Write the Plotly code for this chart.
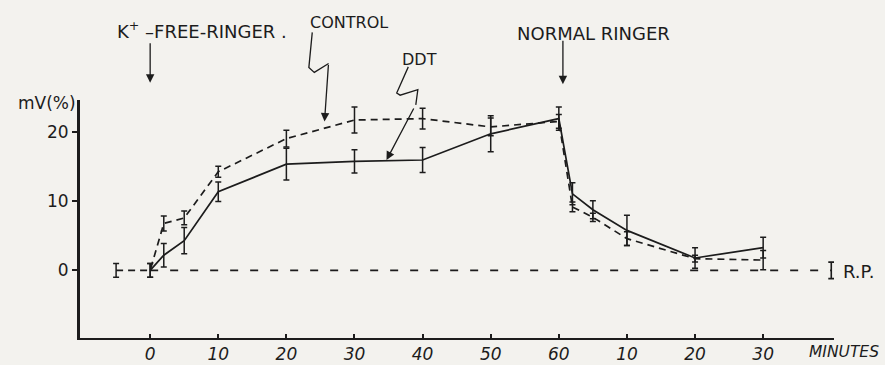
import plotly.graph_objects as go

# Time axis (minutes); after the 60 min mark the clock restarts at 0 in the tick labels
tick_vals = [0, 10, 20, 30, 40, 50, 60, 70, 80, 90]
tick_text = ["0", "10", "20", "30", "40", "50", "60", "10", "20", "30"]

# Control fibres (dashed)
control_t = [-5, 0, 2, 5, 10, 20, 30, 40, 50, 60, 62, 65, 70, 80, 90]
control_mv = [0, 0, 6.8, 7.6, 14.3, 19.1, 21.8, 22.0, 20.8, 21.6, 9.2, 7.7, 4.6, 1.7, 1.5]
control_err = [1.0, 1.0, 1.1, 1.0, 0.8, 1.2, 1.9, 1.5, 1.3, 1.0, 0.7, 0.6, 1.0, 0.5, 1.4]

# DDT-treated fibres (solid)
ddt_t = [0, 2, 5, 10, 20, 30, 40, 50, 60, 62, 65, 70, 80, 90]
ddt_mv = [0, 2.2, 4.3, 11.4, 15.4, 15.8, 16.0, 19.8, 22.0, 11.1, 8.8, 5.8, 1.8, 3.3]
ddt_err = [1.0, 1.7, 1.9, 1.4, 2.3, 1.7, 1.8, 2.6, 1.7, 1.6, 1.3, 2.2, 1.5, 1.5]

# Resting potential reference level
rp_t = [0, 100]
rp_mv = [0, 0]
rp_err = [1.2]

XR = [-10.3, 100.4]
YR = [-9.8, 24.7]
INK = "#1c1c1c"
BG = "#f3f2ee"
HAND = "DejaVu Sans"


def px(x):
    return (x - XR[0]) / (XR[1] - XR[0])


def py(y):
    return (y - YR[0]) / (YR[1] - YR[0])


fig = go.Figure()

fig.add_trace(go.Scatter(
    x=rp_t, y=rp_mv, mode="lines",
    line=dict(color=INK, width=1.8, dash="8px,12px"),
    hoverinfo="skip", showlegend=False,
))
fig.add_trace(go.Scatter(
    x=rp_t[-1:], y=rp_mv[-1:], mode="markers",
    marker=dict(size=1, color=INK, opacity=0),
    error_y=dict(type="data", array=rp_err, color=INK, thickness=1.6, width=3),
    hoverinfo="skip", showlegend=False,
))
fig.add_trace(go.Scatter(
    x=control_t, y=control_mv, mode="lines",
    line=dict(color=INK, width=1.7, dash="7px,5px"),
    error_y=dict(type="data", array=control_err, color=INK, thickness=1.5, width=3),
    name="Control", showlegend=False,
))
fig.add_trace(go.Scatter(
    x=ddt_t, y=ddt_mv, mode="lines",
    line=dict(color=INK, width=1.7),
    error_y=dict(type="data", array=ddt_err, color=INK, thickness=1.5, width=3),
    name="DDT", showlegend=False,
))


def path(points):
    return "M " + " L ".join(f"{px(a):.5f},{py(b):.5f}" for a, b in points)


shapes = [
    # lead-in strokes of the two squiggly pointers
    dict(type="path", xref="paper", yref="paper",
         path=path([(23.8, 34.5), (23.3, 29.4), (24.1, 28.7), (26.2, 30.0)]),
         line=dict(color=INK, width=1.3)),
    dict(type="path", xref="paper", yref="paper",
         path=path([(37.9, 29.5), (36.2, 25.7), (36.7, 25.4), (39.3, 26.2), (39.0, 24.0)]),
         line=dict(color=INK, width=1.3)),
]

annotations = [
    dict(x=px(-5.1), y=py(34.9), xref="paper", yref="paper", xanchor="left", yanchor="middle",
         text="K<sup>+</sup> \u2013FREE-RINGER .", showarrow=False,
         font=dict(family=HAND, size=18, color=INK)),
    dict(x=px(23.2), y=py(36.0), xref="paper", yref="paper", xanchor="left", yanchor="middle",
         text="CONTROL", showarrow=False, font=dict(family=HAND, size=16, color=INK)),
    dict(x=px(39.6), y=py(30.5), xref="paper", yref="paper", xanchor="center", yanchor="middle",
         text="DDT", showarrow=False, font=dict(family=HAND, size=16, color=INK)),
    dict(x=px(53.6), y=py(34.4), xref="paper", yref="paper", xanchor="left", yanchor="middle",
         text="NORMAL RINGER", showarrow=False, font=dict(family=HAND, size=18, color=INK)),
    dict(x=px(101.4), y=py(-0.2), xref="paper", yref="paper", xanchor="left", yanchor="middle",
         text="R.P.", showarrow=False, font=dict(family=HAND, size=18, color=INK)),
    dict(x=px(96.4), y=py(-11.8), xref="paper", yref="paper", xanchor="left", yanchor="middle",
         text="MINUTES", showarrow=False, font=dict(family=HAND, size=15.5, color=INK, style="italic")),
    dict(x=px(-15.1), y=py(24.3), xref="paper", yref="paper", xanchor="center", yanchor="middle",
         text="mV(%)", showarrow=False, font=dict(family=HAND, size=17, color=INK)),
    # straight arrows marking the solution changes
    dict(x=px(0), y=py(27.2), xref="paper", yref="paper", text="", showarrow=True,
         ax=0, ay=-41, arrowhead=2, arrowsize=1.3, arrowwidth=1.3, arrowcolor=INK),
    dict(x=px(60.6), y=py(27.0), xref="paper", yref="paper", text="", showarrow=True,
         ax=0, ay=-45, arrowhead=2, arrowsize=1.3, arrowwidth=1.3, arrowcolor=INK),
    # final legs of the squiggly pointers
    dict(x=px(25.6), y=py(21.6), xref="paper", yref="paper", text="", showarrow=True,
         ax=4, ay=-58, arrowhead=2, arrowsize=1.3, arrowwidth=1.3, arrowcolor=INK),
    dict(x=px(34.7), y=py(16.0), xref="paper", yref="paper", text="", showarrow=True,
         ax=28, ay=-53, arrowhead=2, arrowsize=1.3, arrowwidth=1.3, arrowcolor=INK),
]

fig.update_layout(
    width=885, height=365,
    margin=dict(l=80, r=51, t=100, b=27),
    paper_bgcolor=BG, plot_bgcolor=BG,
    shapes=shapes, annotations=annotations,
    xaxis=dict(range=XR, tickvals=tick_vals, ticktext=tick_text, automargin=False,
               showgrid=False, zeroline=False, showline=True, linecolor=INK, linewidth=2,
               ticks="inside", ticklen=4, tickwidth=1.5, tickcolor=INK,
               tickfont=dict(family=HAND, size=17, color=INK, style="italic")),
    yaxis=dict(range=YR, tickvals=[0, 10, 20], ticktext=["0", "10", "20"], automargin=False,
               showgrid=False, zeroline=False, showline=True, linecolor=INK, linewidth=3,
               ticks="outside", ticklen=5, tickwidth=1.5, tickcolor=INK,
               tickfont=dict(family=HAND, size=17, color=INK)),
)

fig.write_html("out.html")
